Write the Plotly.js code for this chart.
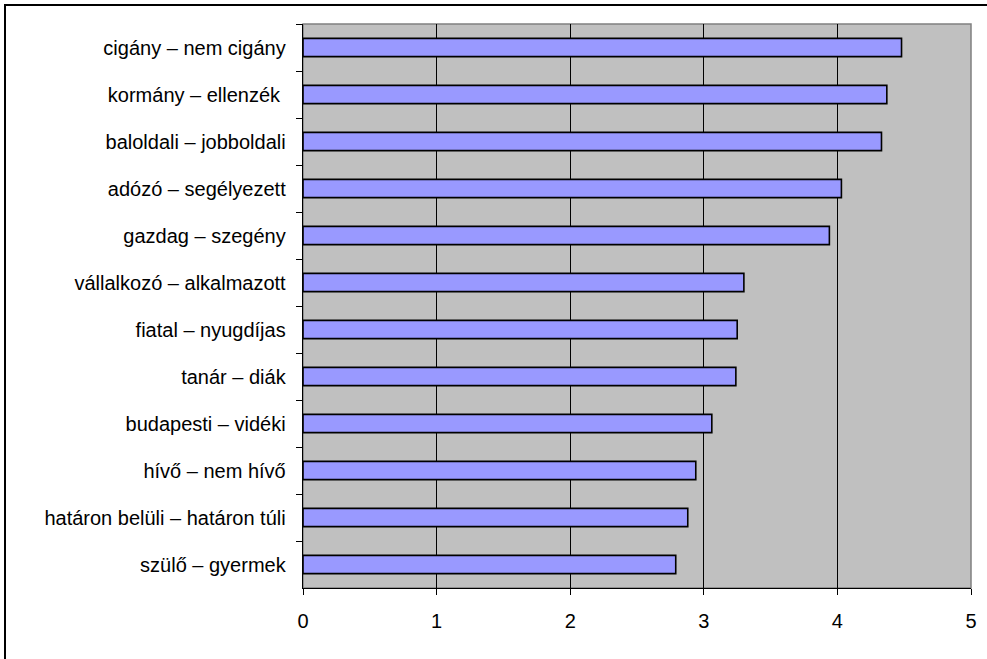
<!DOCTYPE html>
<html>
<head>
<meta charset="utf-8">
<script src="https://cdn.plot.ly/plotly-3.0.1.min.js"></script>
<style>
  html, body { margin: 0; padding: 0; background: #ffffff; overflow: hidden; width: 987px; height: 659px; }
  #frame { position: absolute; left: 4px; top: 4px; width: 1200px; height: 900px; border-left: 2px solid #000; border-top: 2px solid #000; }
  #chart { position: absolute; left: 0; top: 0; width: 987px; height: 659px; }
</style>
</head>
<body>
<div id="frame"></div>
<div id="chart"></div>
<script>
// Categories listed top to bottom as in the chart
const categories = [
  "cigány – nem cigány",
  "kormány – ellenzék ",
  "baloldali – jobboldali",
  "adózó – segélyezett",
  "gazdag – szegény",
  "vállalkozó – alkalmazott",
  "fiatal – nyugdíjas",
  "tanár – diák",
  "budapesti – vidéki",
  "hívő – nem hívő",
  "határon belüli – határon túli",
  "szülő – gyermek"
];
const values = [4.48, 4.37, 4.33, 4.03, 3.94, 3.30, 3.25, 3.24, 3.06, 2.94, 2.88, 2.79];
const xTicks = [0, 1, 2, 3, 4, 5];

const font = { family: "Liberation Sans, Arial, sans-serif", size: 20, color: "#000" };

const trace = {
  type: "bar",
  orientation: "h",
  y: categories,
  x: values,
  marker: { color: "#9999FF", line: { color: "#000000", width: 1.6 } },
  width: 0.39,
  hoverinfo: "none"
};

const layout = {
  width: 987,
  height: 659,
  margin: { l: 303, r: 16, t: 24, b: 71 },
  paper_bgcolor: "rgba(0,0,0,0)",
  plot_bgcolor: "#C0C0C0",
  font: font,
  showlegend: false,
  xaxis: {
    range: [0, 5],
    tickvals: xTicks,
    ticktext: xTicks.map(String),
    showgrid: true,
    gridcolor: "#000000",
    gridwidth: 1,
    zeroline: false,
    showline: true,
    linecolor: "#000000",
    linewidth: 1.3,
    ticks: "outside",
    ticklen: 6,
    tickcolor: "#000000",
    tickwidth: 1,
    ticklabelstandoff: 9,
    tickfont: font,
    fixedrange: true
  },
  yaxis: {
    type: "category",
    autorange: "reversed",
    tickson: "boundaries",
    showgrid: false,
    zeroline: false,
    showline: true,
    linecolor: "#000000",
    linewidth: 1.3,
    ticks: "outside",
    ticklen: 6,
    tickcolor: "#000000",
    tickwidth: 1,
    ticklabelstandoff: 12,
    tickfont: font,
    fixedrange: true
  },
  shapes: [
    { type: "rect", xref: "paper", yref: "paper", x0: 0, x1: 1, y0: 0, y1: 1,
      line: { color: "#808080", width: 1.5 }, layer: "below" }
  ]
};

Plotly.newPlot("chart", [trace], layout, { staticPlot: true, displayModeBar: false });
</script>
</body>
</html>
